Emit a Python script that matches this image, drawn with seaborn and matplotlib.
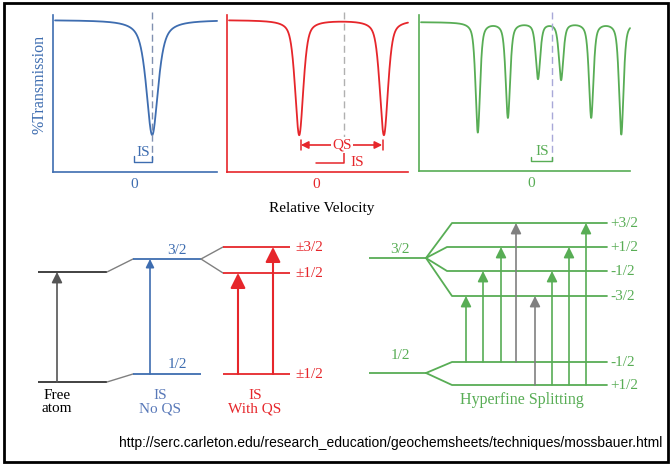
import numpy as np
import pandas as pd
import matplotlib
matplotlib.use("Agg")
import matplotlib.pyplot as plt
import seaborn as sns
from matplotlib.patches import Rectangle

# ------------------------------------------------------------------ data
# Mossbauer spectra: dip centres (mm/s), depths (% transmission), widths (FWHM, mm/s),
# Lorentzian fraction of the line shape
blue_centers = [1.3]
blue_depths = [23.0]
blue_fwhm = [1.0]
blue_eta = 0.7
blue_is = 1.3

red_centers = [-1.2, 4.85]
red_depths = [23.0, 23.0]
red_fwhm = [0.7, 0.7]
red_eta = 0.55
red_is = 2.0

green_centers = [-3.8, -1.65, 0.5, 2.15, 4.3, 6.45]
green_depths = [22.0, 19.0, 11.2, 11.4, 19.0, 22.4]
green_fwhm = [0.38, 0.38, 0.38, 0.38, 0.38, 0.38]
green_eta = 0.6
green_is = 1.5
green_base = 99.6

# energy-level labels
nqs_labels = ["3/2", "1/2"]
qs_labels = ["\u00b13/2", "\u00b11/2", "\u00b11/2"]
hf_excited = ["+3/2", "+1/2", "-1/2", "-3/2"]
hf_ground = ["-1/2", "+1/2"]
# (ground index, excited index, allowed)
hf_transitions = [(0, 3, True), (0, 2, True), (0, 1, True), (0, 0, False),
                  (1, 3, False), (1, 2, True), (1, 1, True), (1, 0, True)]
url = "http://serc.carleton.edu/research_education/geochemsheets/techniques/mossbauer.html"

# ------------------------------------------------------------------ style
sns.set_style("white")
SERIF = ["Liberation Serif", "DejaVu Serif"]
plt.rcParams["font.family"] = SERIF

BLUE = "#3e6db0"
RED = "#e6262b"
GREEN = "#58ad55"
GRAY = "#808080"
DARK = "#333333"

W, H = 670, 465
fig = plt.figure(figsize=(W / 100, H / 100), dpi=100)
fig.patch.set_facecolor("white")


def box(l, t, r, b):
    return [l / W, 1 - b / H, (r - l) / W, (b - t) / H]


# overlay in pixel coordinates
ax0 = fig.add_axes([0, 0, 1, 1])
ax0.set_xlim(0, W)
ax0.set_ylim(H, 0)
ax0.axis("off")
ax0.add_patch(Rectangle((4, 3), 664, 459, fill=False, lw=2, ec="black"))

PXV = 14.0   # px per mm/s
PCT = 0.2    # % per px


def yv(px):
    return 100 - (px - 20) * PCT


def spectrum(centers, depths, fwhm, eta, base=100.0):
    v = np.linspace(-12, 14, 5200)
    t = np.full_like(v, base)
    for c, d, w in zip(centers, depths, fwhm):
        x = (v - c) / (w / 2)
        lor = 1 / (1 + x ** 2)
        gau = np.exp(-np.log(2) * x ** 2)
        t -= d * (eta * lor + (1 - eta) * gau)
    return pd.DataFrame({"v": v, "T": t})


def spec_axes(l, t, r, b, zero_px, color, df, curve_right):
    ax = fig.add_axes(box(l, t, r, b))
    ax.patch.set_alpha(0)
    xmin, xmax = (l - zero_px) / PXV, (r - zero_px) / PXV
    ax.set_xlim(xmin, xmax)
    ax.set_ylim(yv(b), yv(t))
    d = df[(df.v >= (l + 2 - zero_px) / PXV) & (df.v <= (curve_right - zero_px) / PXV)]
    sns.lineplot(data=d, x="v", y="T", ax=ax, color=color, lw=1.3)
    for ln in ax.lines:
        ln.set_clip_on(False)
    for s in ["top", "right"]:
        ax.spines[s].set_visible(False)
    for s in ["left", "bottom"]:
        ax.spines[s].set_color(color)
        ax.spines[s].set_linewidth(1.2)
    ax.set_xticks([0])
    ax.set_xticklabels(["0"], color=color, fontsize=11)
    ax.set_yticks([])
    ax.tick_params(axis="x", direction="in", length=4, color=color, pad=4)
    ax.set_xlabel("")
    ax.set_ylabel("")
    return ax


# ---- blue panel
axb = spec_axes(53, 15, 217, 172, 134, BLUE,
                spectrum(blue_centers, blue_depths, blue_fwhm, blue_eta), 219)
axb.plot([blue_is, blue_is], [yv(12), yv(160)], ls=(0, (5, 3)), color="#8090b0",
         lw=1, clip_on=False)
axb.plot([0, 0, blue_is, blue_is], [yv(156), yv(162), yv(162), yv(156)],
         color=BLUE, lw=1, clip_on=False)
axb.text(blue_is / 2, yv(152), "IS", color=BLUE, ha="center", va="center", fontsize=11)

# ---- red panel
axr = spec_axes(227, 15, 408, 172, 316, RED,
                spectrum(red_centers, red_depths, red_fwhm, red_eta), 408)
axr.plot([red_is, red_is], [yv(12), yv(151)], ls=(0, (5, 3)), color="#b0b0b0",
         lw=1, clip_on=False)
axr.plot([0, red_is, red_is], [yv(163), yv(163), yv(151)], color=RED, lw=1.1,
         clip_on=False)
axr.text(red_is + 0.45, yv(162), "IS", color=RED, ha="left", va="center", fontsize=11)
yq = yv(145)
for c in red_centers:
    axr.annotate("", xy=(c + (0.12 if c < red_is else -0.12), yq), xytext=(red_is, yq),
                 arrowprops=dict(arrowstyle="-|>", color=RED, lw=1.2,
                                 mutation_scale=11, shrinkA=0, shrinkB=0))
    axr.plot([c + (0.1 if c < red_is else -0.1)] * 2, [yv(140), yv(150)], color=RED,
             lw=1.1, clip_on=False)
axr.text(red_is - 0.15, yq, "QS", color=RED, ha="center", va="center", fontsize=11,
         bbox=dict(fc="white", ec="none", pad=1.0), zorder=5)

# ---- green panel
axg = spec_axes(419, 15, 630, 171, 531, GREEN,
                spectrum(green_centers, green_depths, green_fwhm, green_eta, green_base),
                648)
axg.plot([green_is, green_is], [yv(12), yv(161)], ls=(0, (5, 3)), color="#a8a8d8",
         lw=1, clip_on=False)
axg.plot([0, 0, green_is, green_is], [yv(157), yv(161), yv(161), yv(157)],
         color=GREEN, lw=1, clip_on=False)
axg.text(green_is / 2 + 0.05, yv(152), "IS", color=GREEN, ha="center", va="center",
         fontsize=11)

ax0.text(40, 84, "%Transmission", rotation=90, color=BLUE, ha="center", va="center",
         fontsize=11.5)
ax0.text(322, 208, "Relative Velocity", color="black", ha="center", va="center",
         fontsize=11)


# ------------------------------------------------------------------ level diagrams
def arrow(x, y0, y1, color, ms=9, lw=1.2):
    ax0.annotate("", xy=(x, y1), xytext=(x, y0),
                 arrowprops=dict(arrowstyle="-|>,head_length=0.7,head_width=0.35",
                                 color=color, lw=lw, mutation_scale=ms,
                                 shrinkA=0, shrinkB=0))


def hline(x0, x1, y, color, lw=1.3):
    ax0.plot([x0, x1], [y, y], color=color, lw=lw, solid_capstyle="butt")


# free atom
hline(38, 107, 272, DARK)
hline(38, 107, 382, DARK)
arrow(57, 382, 272, "#555555")
ax0.plot([107, 133], [272, 259], color=GRAY, lw=1)
ax0.plot([107, 133], [382, 374], color=GRAY, lw=1)
ax0.text(57, 402, "Free\natom", ha="center", va="center", fontsize=11,
         color="black", linespacing=1.0)

# isomer shift, no QS
hline(133, 201, 259, BLUE)
hline(133, 201, 374, BLUE)
arrow(150, 374, 259, BLUE, ms=7)
ax0.text(177, 250, nqs_labels[0], color=BLUE, ha="center", va="center", fontsize=11)
ax0.text(177, 364, nqs_labels[1], color=BLUE, ha="center", va="center", fontsize=11)
ax0.text(160, 402, "IS\nNo QS", ha="center", va="center", fontsize=11,
         color="#5878b8", linespacing=1.0)

# with QS
ax0.plot([201, 223], [259, 247], color=GRAY, lw=1)
ax0.plot([201, 223], [259, 273], color=GRAY, lw=1)
qs_y = [247, 273, 374]
for y, lab in zip(qs_y, qs_labels):
    hline(223, 290, y, RED)
    ax0.text(295, y, lab, color=RED, ha="left", va="center", fontsize=11)
arrow(238, 374, 273, RED, ms=13, lw=1.5)
arrow(273, 374, 247, RED, ms=13, lw=1.5)
ax0.text(255, 402, "IS\nWith QS", ha="center", va="center", fontsize=11,
         color=RED, linespacing=1.0)

# hyperfine splitting
ex_y = [223, 247, 271, 296]
ex_x = [452, 447, 447, 452]
gr_y = [362, 385]
hline(369, 426, 258, GREEN)
hline(369, 426, 373, GREEN)
ax0.text(400, 249, "3/2", color=GREEN, ha="center", va="center", fontsize=11)
ax0.text(400, 355, "1/2", color=GREEN, ha="center", va="center", fontsize=11)
for y, x, lab in zip(ex_y, ex_x, hf_excited):
    ax0.plot([426, x, 607], [258, y, y], color=GREEN, lw=1.3)
    ax0.text(610, y, lab, color=GREEN, ha="left", va="center", fontsize=11)
for y, lab in zip(gr_y, hf_ground):
    ax0.plot([426, 452, 607], [373, y, y], color=GREEN, lw=1.3)
    ax0.text(610, y, lab, color=GREEN, ha="left", va="center", fontsize=11)
arrow_x = [466, 483, 501, 516, 535, 552, 569, 586]
for x, (g, e, ok) in zip(arrow_x, hf_transitions):
    arrow(x, gr_y[g], ex_y[e], GREEN if ok else GRAY, ms=9)
ax0.text(522, 400, "Hyperfine Splitting", color=GREEN, ha="center", va="center",
         fontsize=11.5)

ax0.text(662, 443, url, ha="right", va="center", fontsize=10, color="black",
         family=["Liberation Sans", "DejaVu Sans"])

fig.savefig("out.png", dpi=100)
